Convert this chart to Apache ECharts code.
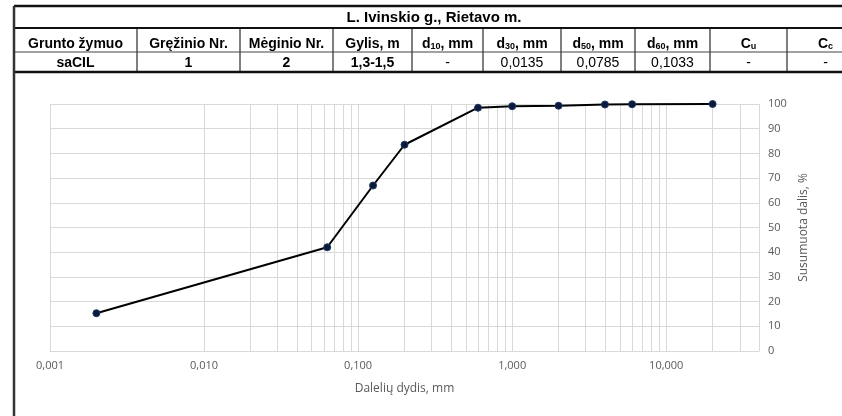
<!DOCTYPE html>
<html>
<head>
<meta charset="utf-8">
<script src="https://cdn.jsdelivr.net/npm/echarts@6/dist/echarts.min.js"></script>
<style>
html,body{margin:0;padding:0;background:#fff;}
#chart{width:842px;height:416px;}
</style>
</head>
<body>
<div id="chart"></div>
<script>
// ---- data ----
const particleSizes = [0.002, 0.063, 0.125, 0.2, 0.6, 1, 2, 4, 6, 20];
const passingPercent = [15.3, 42, 67, 83.5, 98.5, 99.1, 99.3, 99.8, 99.9, 100];
const tableTitle = 'L. Ivinskio g., Rietavo m.';
const tableHeaders = ['Grunto žymuo', 'Gręžinio Nr.', 'Mėginio Nr.', 'Gylis, m', 'd10', 'd30', 'd50', 'd60', 'Cu', 'Cc'];
const tableValues = ['saCIL', '1', '2', '1,3-1,5', '-', '0,0135', '0,0785', '0,1033', '-', '-'];
const minorGridValues = [];
[0.001, 0.01, 0.1, 1, 10].forEach(function (d) {
  for (let k = 2; k <= 9; k++) { if (d * k < 40) minorGridValues.push(+(d * k).toPrecision(3)); }
});

// ---- table layout ----
const colX = [14, 137, 240, 333, 412, 483, 561, 635, 710, 787, 864];
const rowY = [6, 28, 52, 72];
const graphics = [];
const FONT = '"Liberation Sans", Arial, sans-serif';
function line(x1, y1, x2, y2, w, c) {
  graphics.push({ type: 'line', silent: true, shape: { x1: x1, y1: y1, x2: x2, y2: y2 }, style: { stroke: c, lineWidth: w } });
}
for (let i = 1; i < colX.length - 1; i++) line(colX[i], rowY[1], colX[i], rowY[3], 1.5, '#555');
line(colX[0], rowY[2], 842, rowY[2], 1.2, '#444');
line(colX[0], rowY[1], 842, rowY[1], 2, '#111');
line(colX[0], rowY[0], 842, rowY[0], 2.5, '#111');
line(colX[0], rowY[3], 842, rowY[3], 2.5, '#111');
line(colX[0], rowY[0], colX[0], 416, 2.5, '#333');

graphics.push({ type: 'text', silent: true, x: 434, y: (rowY[0] + rowY[1]) / 2 + 1,
  style: { text: tableTitle, font: 'bold 15px ' + FONT, fill: '#000', align: 'center', verticalAlign: 'middle' } });

tableHeaders.forEach(function (h, i) {
  const cx = (colX[i] + colX[i + 1]) / 2;
  const cy = (rowY[1] + rowY[2]) / 2 + 2;
  let txt;
  if (/^d\d\d$/.test(h)) txt = '{m|d}{s|' + h.slice(1) + '}{m|, mm}';
  else if (/^C[uc]$/.test(h)) txt = '{m|C}{s|' + h.slice(1) + '}';
  else txt = '{m|' + h + '}';
  graphics.push({ type: 'text', silent: true, x: cx, y: cy,
    style: { text: txt, align: 'center', verticalAlign: 'middle',
      rich: { m: { font: 'bold 14px ' + FONT, fill: '#000', lineHeight: 18, verticalAlign: 'bottom' },
              s: { font: 'bold 9px ' + FONT, fill: '#000', lineHeight: 18, verticalAlign: 'bottom' } } } });
});
tableValues.forEach(function (v, i) {
  const cx = (colX[i] + colX[i + 1]) / 2;
  const cy = (rowY[2] + rowY[3]) / 2 + 1;
  const bold = i < 4;
  graphics.push({ type: 'text', silent: true, x: cx, y: cy,
    style: { text: v, font: (bold ? 'bold ' : '') + '14px ' + FONT, fill: '#000', align: 'center', verticalAlign: 'middle' } });
});

const chart = echarts.init(document.getElementById('chart'), null, { renderer: 'canvas' });
const AXFONT = '"Open Sans", "DejaVu Sans", sans-serif';
chart.setOption({
  animation: false,
  backgroundColor: '#fff',
  graphic: graphics,
  grid: { left: 50, right: 83, top: 104, bottom: 65, containLabel: false },
  xAxis: {
    type: 'log', logBase: 10, min: 0.001, max: 40,
    name: 'Dalelių dydis, mm', nameLocation: 'middle', nameGap: 32,
    nameTextStyle: { color: '#595959', fontSize: 12, fontFamily: AXFONT },
    axisLine: { show: true, lineStyle: { color: '#d9d9d9' } },
    axisTick: { show: false },
    axisLabel: {
      color: '#595959', fontSize: 11, fontFamily: AXFONT, margin: 9,
      formatter: function (v) {
        const l = Math.log10(v);
        if (Math.abs(l - Math.round(l)) > 1e-6) return '';
        return Math.pow(10, Math.round(l)).toFixed(3).replace('.', ',');
      }
    },
    splitLine: { show: true, lineStyle: { color: '#d9d9d9', width: 1 } }
  },
  yAxis: {
    type: 'value', position: 'right', min: 0, max: 100, interval: 10,
    name: 'Susumuota dalis, %', nameLocation: 'middle', nameGap: 36, nameRotate: 90,
    nameTextStyle: { color: '#595959', fontSize: 12, fontFamily: AXFONT },
    axisLine: { show: false }, axisTick: { show: false },
    axisLabel: { color: '#595959', fontSize: 11, fontFamily: AXFONT, margin: 9 },
    splitLine: { show: true, lineStyle: { color: '#d9d9d9', width: 1 } }
  },
  series: [
    {
      type: 'line', data: [], silent: true,
      markLine: {
        silent: true, symbol: 'none', animation: false,
        label: { show: false },
        lineStyle: { color: '#d9d9d9', width: 1, type: 'solid' },
        data: minorGridValues.map(function (v) { return { xAxis: v }; })
      }
    },
    {
      type: 'line',
      data: particleSizes.map(function (x, i) { return [x, passingPercent[i]]; }),
      symbol: 'circle', symbolSize: 7,
      lineStyle: { color: '#000', width: 2 },
      itemStyle: { color: '#0b1a3a', borderColor: '#1f3864', borderWidth: 1 },
      z: 5
    }
  ]
});
</script>
</body>
</html>
